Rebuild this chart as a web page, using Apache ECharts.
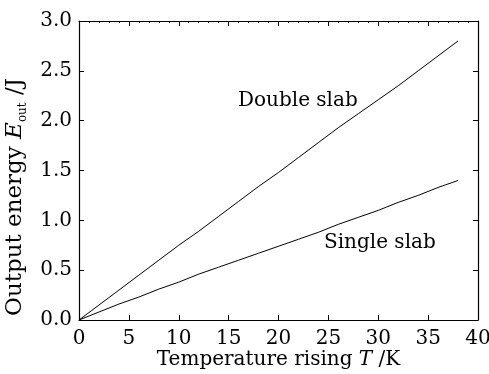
<!DOCTYPE html>
<html>
<head>
<meta charset="utf-8">
<script src="https://cdn.jsdelivr.net/npm/echarts@6/dist/echarts.min.js"></script>
<style>
  html, body { margin: 0; padding: 0; background: #fff; }
  #chart { width: 489px; height: 374px; }
</style>
</head>
<body>
<div id="chart"></div>
<script>
// temperature rise (K)
const temps = [0, 2, 4, 6, 8, 10, 12, 14, 16, 18, 20, 22, 24, 26, 28, 30, 32, 34, 36, 38];
// output energy (J)
const doubleSlab = [0, 0.15, 0.30, 0.45, 0.60, 0.75, 0.89, 1.04, 1.19, 1.34, 1.48, 1.63, 1.78, 1.93, 2.07, 2.21, 2.35, 2.50, 2.65, 2.80];
const singleSlab = [0, 0.08, 0.16, 0.23, 0.31, 0.38, 0.46, 0.53, 0.60, 0.67, 0.74, 0.81, 0.88, 0.96, 1.03, 1.10, 1.18, 1.25, 1.33, 1.40];
const seriesNames = ["Double slab", "Single slab"];

const FONT = "'DejaVu Serif', serif";
const INK = "#000";

const myChart = echarts.init(document.getElementById("chart"));

const pairs = (ys) => temps.map((t, i) => [t, ys[i]]);

// box frame: every axis sits on its own edge, ticks point inward
const frameAxis = {
  axisLine: { show: true, onZero: false, lineStyle: { color: INK, width: 1.2 } },
  axisTick: { show: true, inside: true, length: 5, lineStyle: { color: INK } },
  splitLine: { show: false },
};

const option = {
  animation: false,
  backgroundColor: "#fff",
  textStyle: { fontFamily: FONT, color: INK },
  grid: { left: 79, right: 11, top: 21, bottom: 54, outerBoundsMode: "none" },
  xAxis: [
    {
      ...frameAxis,
      type: "value",
      min: 0,
      max: 40,
      interval: 5,
      position: "bottom",
      axisLabel: { color: INK, fontFamily: FONT, fontSize: 20, margin: 9 },
      name: "Temperature rising {i|T} /K",
      nameLocation: "middle",
      nameGap: 30,
      nameMoveOverlap: false,
      nameTextStyle: {
        color: INK,
        fontFamily: FONT,
        fontSize: 20,
        rich: { i: { fontStyle: "italic", fontFamily: FONT, fontSize: 20, color: INK } },
      },
    },
    {
      ...frameAxis,
      type: "value",
      min: 0,
      max: 40,
      interval: 5,
      position: "top",
      axisLabel: { show: false },
      minorTick: { show: true, splitNumber: 5, length: 2, lineStyle: { color: INK } },
    },
  ],
  yAxis: [
    {
      ...frameAxis,
      type: "value",
      min: 0,
      max: 3,
      interval: 0.5,
      position: "left",
      axisLabel: {
        color: INK,
        fontFamily: FONT,
        fontSize: 20,
        margin: 7,
        formatter: (v) => v.toFixed(1),
      },
    },
    {
      ...frameAxis,
      type: "value",
      min: 0,
      max: 3,
      interval: 0.5,
      position: "right",
      axisLabel: { show: false },
    },
  ],
  graphic: [
    {
      type: "text",
      x: 15,
      y: 197,
      rotation: Math.PI / 2,
      style: {
        text: "Output energy {i|E}{sub|out} /J",
        fontFamily: FONT,
        fontSize: 23,
        fill: INK,
        align: "center",
        verticalAlign: "middle",
        rich: {
          i: { fontStyle: "italic", fontFamily: FONT, fontSize: 23, lineHeight: 27, color: INK },
          sub: { fontFamily: FONT, fontSize: 12, lineHeight: 13, verticalAlign: "bottom", color: INK },
        },
      },
    },
    {
      type: "text",
      x: 238,
      y: 101,
      style: {
        text: seriesNames[0],
        fontFamily: FONT,
        fontSize: 20,
        fill: INK,
        align: "left",
        verticalAlign: "middle",
      },
    },
    {
      type: "text",
      x: 324,
      y: 243,
      style: {
        text: seriesNames[1],
        fontFamily: FONT,
        fontSize: 20,
        fill: INK,
        align: "left",
        verticalAlign: "middle",
      },
    },
  ],
  series: [
    {
      name: seriesNames[0],
      type: "line",
      data: pairs(doubleSlab),
      showSymbol: false,
      lineStyle: { color: INK, width: 1 },
    },
    {
      name: seriesNames[1],
      type: "line",
      data: pairs(singleSlab),
      showSymbol: false,
      lineStyle: { color: INK, width: 1 },
    },
  ],
};

myChart.setOption(option);
</script>
</body>
</html>
